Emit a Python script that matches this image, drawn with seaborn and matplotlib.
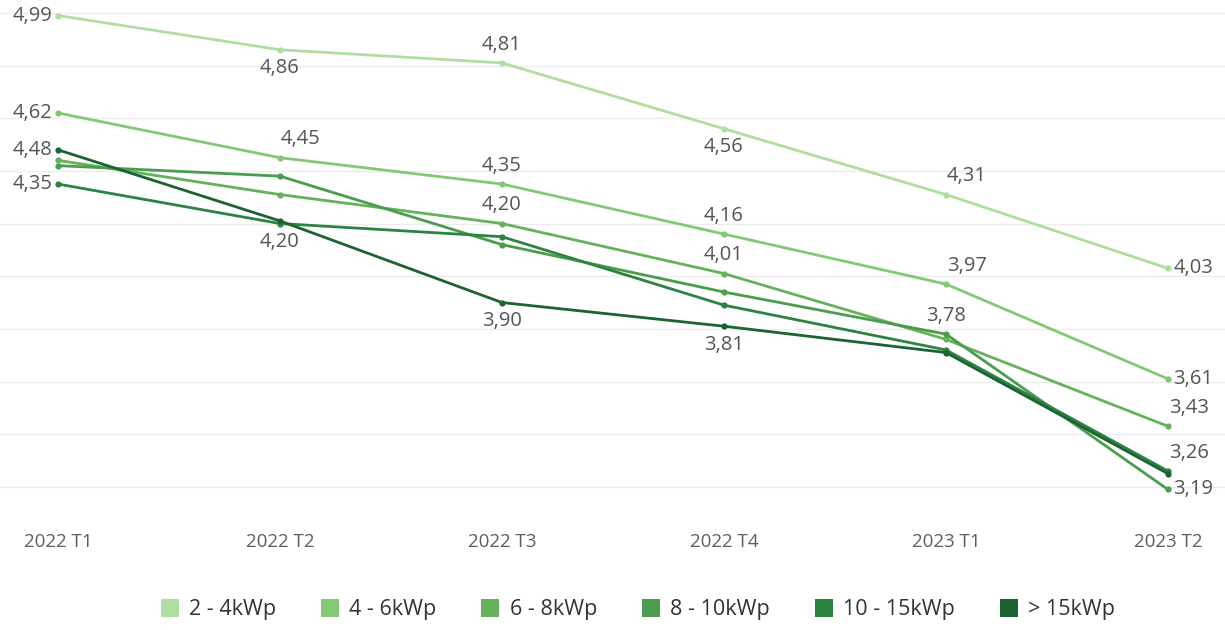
import pandas as pd
import seaborn as sns
import matplotlib.pyplot as plt
from matplotlib.lines import Line2D

# quarters on the x axis
quarters = ["2022 T1", "2022 T2", "2022 T3", "2022 T4", "2023 T1", "2023 T2"]

# series values
s_2_4 = [4.99, 4.86, 4.81, 4.56, 4.31, 4.03]
s_4_6 = [4.62, 4.45, 4.35, 4.16, 3.97, 3.61]
s_6_8 = [4.44, 4.31, 4.20, 4.01, 3.76, 3.43]
s_8_10 = [4.42, 4.38, 4.12, 3.94, 3.78, 3.19]
s_10_15 = [4.35, 4.20, 4.15, 3.89, 3.72, 3.26]
s_15 = [4.48, 4.21, 3.90, 3.81, 3.71, 3.25]

series_names = ["2 - 4kWp", "4 - 6kWp", "6 - 8kWp", "8 - 10kWp", "10 - 15kWp", "> 15kWp"]
series_values = [s_2_4, s_4_6, s_6_8, s_8_10, s_10_15, s_15]
colors = ["#b0dea2", "#83c875", "#66b25c", "#4b9c4f", "#2d8442", "#1c6332"]

# which labels are shown, and where: (series, quarter index, position)
shown_labels = [
    (0, 0, "left"), (0, 1, "below"), (0, 2, "above"), (0, 3, "below"), (0, 4, "above_r"), (0, 5, "right"),
    (1, 0, "left"), (1, 1, "above_r"), (1, 2, "above"), (1, 3, "above"), (1, 4, "above_r"), (1, 5, "right"),
    (2, 2, "above"), (2, 3, "above"), (2, 5, "above_r"),
    (3, 4, "above"), (3, 5, "right"),
    (4, 0, "left"), (4, 1, "below"), (4, 5, "above_r"),
    (5, 0, "left"), (5, 2, "below"), (5, 3, "below"),
]

rows = []
for name, vals in zip(series_names, series_values):
    for i, v in enumerate(vals):
        rows.append({"series": name, "x": i, "value": v})
df = pd.DataFrame(rows)

sns.set_style("white")
plt.rcParams["font.family"] = ["Open Sans", "DejaVu Sans"]

fig = plt.figure(figsize=(12.25, 6.3), dpi=100)
ax = fig.add_axes([0, 130 / 630, 1, 495 / 630])

palette = dict(zip(series_names, colors))
sns.lineplot(data=df, x="x", y="value", hue="series", hue_order=series_names,
             palette=palette, marker="o", markersize=4.5, markeredgewidth=0,
             linewidth=2, legend=False, ax=ax)

ax.set_xlim(-0.261, 5.257)
ax.set_ylim(3.15, 5.03)
ax.set_yticks([3.2 + 0.2 * k for k in range(10)])
ax.yaxis.grid(True, color="#ececec", linewidth=1)
ax.set_yticklabels([])
ax.set_xticks(range(len(quarters)))
ax.set_xticklabels(quarters, fontsize=13.5, color="#5e5e5e")
ax.tick_params(axis="x", length=0, pad=24)
ax.tick_params(axis="y", length=0)
ax.set_xlabel("")
ax.set_ylabel("")
for sp in ax.spines.values():
    sp.set_visible(False)

offsets = {
    "left": ((-4, 0), "right", "center"),
    "right": ((4, 0), "left", "center"),
    "above": ((0, 6), "center", "bottom"),
    "above_r": ((15, 6), "center", "bottom"),
    "below": ((0, -6), "center", "top"),
}
for si, qi, pos in shown_labels:
    v = series_values[si][qi]
    (dx, dy), ha, va = offsets[pos]
    ax.annotate(f"{v:.2f}".replace(".", ","), (qi, v), xytext=(dx, dy),
                textcoords="offset points", ha=ha, va=va,
                fontsize=14.5, color="#555555")

handles = [Line2D([], [], marker="s", linestyle="none", markersize=13,
                  markerfacecolor=c, markeredgewidth=0) for c in colors]
fig.legend(handles, series_names, loc="center", bbox_to_anchor=(0.52, 1 - 610 / 630),
           ncol=6, frameon=False, fontsize=15.5, handletextpad=0.4, handlelength=1.0,
           columnspacing=2.0, labelcolor="#333333")

plt.savefig("out.png", dpi=100)
